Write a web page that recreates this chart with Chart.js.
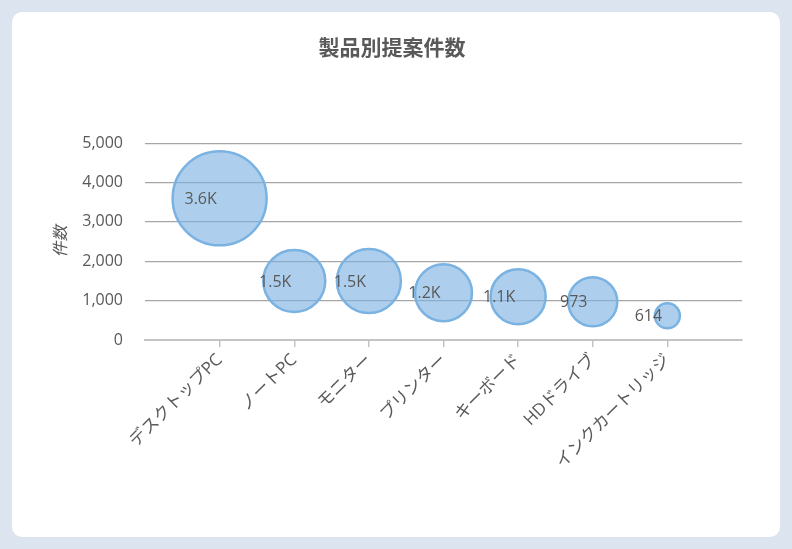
<!DOCTYPE html>
<html>
<head>
<meta charset="utf-8">
<script src="https://cdn.jsdelivr.net/npm/chart.js@4"></script>
<style>
  html, body { margin: 0; padding: 0; }
  body { width: 792px; height: 549px; background: #dce5ef; position: relative; overflow: hidden; }
  .card { position: absolute; left: 12px; top: 12px; width: 768px; height: 525px; background: #fff; border-radius: 10px; }
  canvas { display: block; }
</style>
</head>
<body>
<div class="card"><canvas id="bubble-chart" width="768" height="525"></canvas></div>
<script>
// 製品別提案件数 - bubble per product
const categories = ['デスクトップPC', 'ノートPC', 'モニター', 'プリンター', 'キーボード', 'HDドライブ', 'インクカートリッジ'];
const proposalCounts = [3600, 1500, 1500, 1200, 1100, 973, 614];
const bubbleRadius = [47, 31, 32, 28.5, 27.5, 24.5, 12.5];
const valueLabels = ['3.6K', '1.5K', '1.5K', '1.2K', '1.1K', '973', '614'];
const yTickValues = [0, 1000, 2000, 3000, 4000, 5000];

const FONT = "'Open Sans', 'Noto Sans CJK JP', sans-serif";
const TEXT = '#595959';

// bubble labels, drawn a bit left of the centre
const bubbleLabels = {
  id: 'bubbleLabels',
  afterDatasetsDraw(chart) {
    const ctx = chart.ctx;
    ctx.save();
    ctx.font = '16px ' + FONT;
    ctx.fillStyle = TEXT;
    ctx.textAlign = 'center';
    ctx.textBaseline = 'middle';
    chart.getDatasetMeta(0).data.forEach((el, i) => {
      ctx.fillText(valueLabels[i], el.x - 19, el.y + 1);
    });
    ctx.restore();
  }
};

new Chart(document.getElementById('bubble-chart'), {
  type: 'bubble',
  data: {
    datasets: [{
      label: '件数',
      data: proposalCounts.map((v, i) => ({ x: i + 1, y: v, r: bubbleRadius[i] })),
      backgroundColor: 'rgba(122,178,226,0.62)',
      borderColor: 'rgba(122,178,226,1)',
      borderWidth: 2.5,
      clip: false
    }]
  },
  options: {
    responsive: false,
    animation: false,
    events: [],
    layout: { autoPadding: false, padding: { left: 30, right: 38, top: 0, bottom: 0 } },
    plugins: {
      legend: { display: false },
      tooltip: { enabled: false },
      title: {
        display: true,
        text: '製品別提案件数',
        color: TEXT,
        font: { family: FONT, size: 21, weight: 'bold' },
        padding: { top: 24, bottom: 82 }
      }
    },
    scales: {
      x: {
        type: 'linear',
        min: 0,
        max: categories.length + 1,
        afterBuildTicks: s => {
          s.ticks = categories.map((c, i) => ({ value: i + 1 }));
        },
        afterFit: s => {
          s.height = 197;
          s.paddingLeft = 0;
          s.paddingRight = 0;
        },
        border: { display: true, color: '#c4c4c4', width: 2 },
        grid: { drawOnChartArea: false, drawTicks: true, tickLength: 7, color: '#c4c4c4', lineWidth: 1.5 },
        ticks: {
          autoSkip: false,
          minRotation: 45,
          maxRotation: 45,
          color: TEXT,
          font: { family: FONT, size: 17 },
          padding: 3,
          callback: v => categories[v - 1] || ''
        }
      },
      y: {
        min: 0,
        max: 5000,
        afterBuildTicks: s => {
          s.ticks = yTickValues.map(v => ({ value: v }));
        },
        afterFit: s => { s.width = 103; },
        border: { display: false },
        grid: { drawTicks: false, color: '#a6a6a6', lineWidth: 1.2 },
        ticks: {
          color: TEXT,
          padding: 22,
          font: { family: FONT, size: 16 },
          callback: v => v.toLocaleString('en-US')
        },
        title: {
          display: true,
          text: '件数',
          color: TEXT,
          font: { family: FONT, size: 16, style: 'italic' },
          padding: { top: 10, bottom: 0 }
        }
      }
    }
  },
  plugins: [bubbleLabels]
});
</script>
</body>
</html>
